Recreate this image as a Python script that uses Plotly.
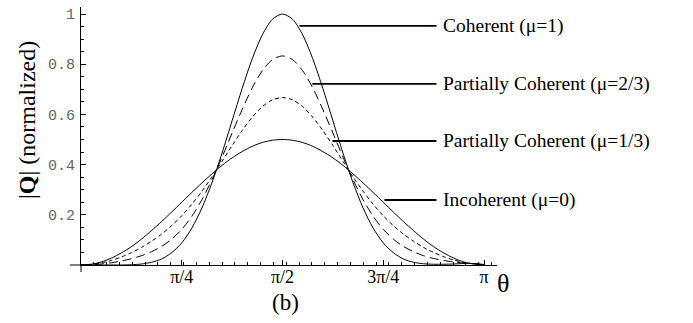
import math
import plotly.graph_objects as go

# theta in units of pi
t_frac = [0.000, 0.025, 0.050, 0.075, 0.100, 0.125, 0.150, 0.175, 0.200, 0.225,
          0.250, 0.275, 0.300, 0.325, 0.350, 0.375, 0.400, 0.425, 0.450, 0.475,
          0.500, 0.525, 0.550, 0.575, 0.600, 0.625, 0.650, 0.675, 0.700, 0.725,
          0.750, 0.775, 0.800, 0.825, 0.850, 0.875, 0.900, 0.925, 0.950, 0.975,
          1.000]

coherent = [0.000, 0.000, 0.000, 0.000, 0.000, 0.001, 0.004, 0.011, 0.024, 0.049,
            0.088, 0.147, 0.227, 0.328, 0.446, 0.575, 0.704, 0.822, 0.917, 0.979,
            1.000, 0.979, 0.917, 0.822, 0.704, 0.575, 0.446, 0.328, 0.227, 0.147,
            0.088, 0.049, 0.024, 0.011, 0.005, 0.003, 0.003, 0.004, 0.006, 0.006,
            0.002]

partial_23 = [0.000, 0.001, 0.004, 0.009, 0.016, 0.025, 0.037, 0.053, 0.074, 0.103,
              0.142, 0.194, 0.260, 0.340, 0.430, 0.526, 0.620, 0.706, 0.774, 0.818,
              0.833, 0.818, 0.774, 0.706, 0.620, 0.526, 0.430, 0.340, 0.260, 0.194,
              0.142, 0.103, 0.074, 0.053, 0.037, 0.026, 0.018, 0.012, 0.008, 0.005,
              0.002]

partial_13 = [0.000, 0.002, 0.008, 0.018, 0.032, 0.049, 0.070, 0.095, 0.123, 0.157,
              0.196, 0.242, 0.294, 0.351, 0.413, 0.476, 0.536, 0.589, 0.631, 0.658,
              0.667, 0.658, 0.631, 0.589, 0.536, 0.476, 0.413, 0.351, 0.294, 0.242,
              0.196, 0.157, 0.123, 0.095, 0.070, 0.050, 0.033, 0.020, 0.010, 0.005,
              0.002]

incoherent = [0.000, 0.003, 0.012, 0.027, 0.048, 0.073, 0.103, 0.137, 0.173, 0.211,
              0.250, 0.289, 0.327, 0.363, 0.397, 0.427, 0.452, 0.473, 0.488, 0.497,
              0.500, 0.497, 0.488, 0.473, 0.452, 0.427, 0.397, 0.363, 0.327, 0.289,
              0.250, 0.211, 0.173, 0.137, 0.103, 0.073, 0.048, 0.027, 0.012, 0.004,
              0.001]

x_tick_frac = [0.25, 0.5, 0.75, 1.0]
x_tick_text = ["\u03c0/4", "\u03c0/2", "3\u03c0/4", "\u03c0"]
y_tick_vals = [0.2, 0.4, 0.6, 0.8, 1.0]
y_tick_text = ["0.2", "0.4", "0.6", "0.8", "1"]

labels = ["Coherent (\u03bc=1)", "Partially Coherent (\u03bc=2/3)",
          "Partially Coherent (\u03bc=1/3)", "Incoherent (\u03bc=0)"]
label_start_frac = [0.542, 0.574, 0.624, 0.753]   # where leader line touches curve
label_y = [0.953, 0.722, 0.494, 0.259]
label_line_end_frac = 0.882
label_text_frac = 0.893

PI = math.pi
theta = [f * PI for f in t_frac]

# layout geometry
W, H = 693, 323
ML, MR, MT, MB = 81, 196, 7, 58
PX_PER_PI = 403.0
PX_PER_UNIT = 251.0
plot_w = W - ML - MR
plot_h = H - MT - MB
x_max = plot_w / PX_PER_PI * PI
y_max = plot_h / PX_PER_UNIT

fig = go.Figure()
styles = [
    (coherent, None),
    (partial_23, "9px,5px"),
    (partial_13, "4px,3px"),
    (incoherent, None),
]
for vals, dash in styles:
    fig.add_trace(go.Scatter(
        x=theta, y=vals, mode="lines",
        line=dict(color="black", width=1, dash=dash, shape="spline", smoothing=0.8),
        showlegend=False, hoverinfo="skip"))

serif = "Liberation Serif, Times New Roman, serif"

for lab, sf, ly in zip(labels, label_start_frac, label_y):
    fig.add_shape(type="line", xref="x", yref="y",
                  x0=sf * PI, x1=label_line_end_frac * PI, y0=ly, y1=ly,
                  line=dict(color="black", width=1.8))
    fig.add_annotation(x=label_text_frac * PI, y=ly, xref="x", yref="y",
                       text=lab, showarrow=False, xanchor="left", yanchor="middle",
                       font=dict(family=serif, size=19.5, color="black"))

# axis extensions (Mathematica style: axes cross slightly past origin)
fig.add_shape(type="line", xref="paper", yref="paper",
              x0=-11 / plot_w, x1=0, y0=0, y1=0, line=dict(color="black", width=1))
fig.add_shape(type="line", xref="paper", yref="paper",
              x0=0, x1=0, y0=-7 / plot_h, y1=0, line=dict(color="black", width=1))

# y-axis title
fig.add_annotation(x=(27 - ML) / plot_w, y=(265 - 120) / plot_h,
                   xref="paper", yref="paper", xanchor="center", yanchor="middle",
                   text="|<b>Q</b>| (normalized)", textangle=-90, showarrow=False,
                   font=dict(family=serif, size=24, color="black"))
# (b)
fig.add_annotation(x=(285 - ML) / plot_w, y=-(302 - 265) / plot_h,
                   xref="paper", yref="paper", xanchor="center", yanchor="middle",
                   text="(b)", showarrow=False,
                   font=dict(family=serif, size=23, color="black"))
# theta
fig.add_annotation(x=(503 - ML) / plot_w, y=-(283 - 265) / plot_h,
                   xref="paper", yref="paper", xanchor="center", yanchor="middle",
                   text="\u03b8", showarrow=False,
                   font=dict(family=serif, size=26, color="black"))

fig.update_xaxes(range=[0, x_max], showgrid=False, zeroline=False,
                 showline=True, linecolor="black", linewidth=1,
                 tickmode="array", tickvals=[f * PI for f in x_tick_frac],
                 ticktext=x_tick_text, ticks="inside", ticklen=5,
                 tickcolor="black", tickwidth=1, ticklabelstandoff=-5,
                 tickfont=dict(family=serif, size=18, color="black"),
                 minor=dict(ticks="inside", ticklen=3, tick0=0, dtick=0.1,
                            tickcolor="black", tickwidth=1, showgrid=False))
fig.update_yaxes(range=[0, y_max], showgrid=False, zeroline=False,
                 showline=True, linecolor="black", linewidth=1,
                 tickmode="array", tickvals=y_tick_vals, ticktext=y_tick_text,
                 ticks="inside", ticklen=5, tickcolor="black", tickwidth=1,
                 ticklabelstandoff=2,
                 tickfont=dict(family="Liberation Mono, Courier New, monospace",
                               size=15, color="#666666"),
                 minor=dict(ticks="inside", ticklen=3, tick0=0, dtick=0.05,
                            tickcolor="black", tickwidth=1, showgrid=False))

fig.update_layout(width=W, height=H,
                  margin=dict(l=ML, r=MR, t=MT, b=MB, pad=0, autoexpand=False),
                  plot_bgcolor="white", paper_bgcolor="white",
                  showlegend=False)

fig.write_html("out.html", config={"displayModeBar": False},
               post_script="document.body.style.margin='0px';"
                           "document.body.style.overflow='hidden';")
